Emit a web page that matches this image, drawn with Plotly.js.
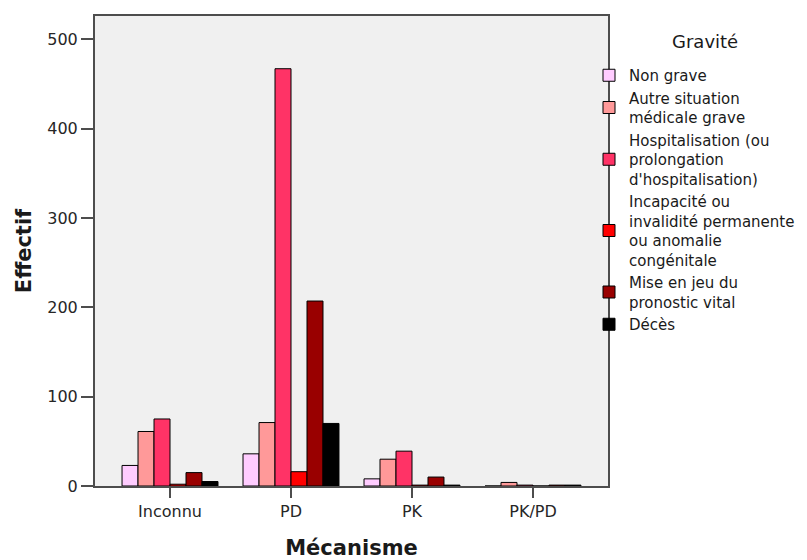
<!DOCTYPE html>
<html>
<head>
<meta charset="utf-8">
<script src="https://cdn.plot.ly/plotly-3.0.1.min.js"></script>
<style>html,body{margin:0;padding:0;background:#fff;}#chart{width:807px;height:560px;}</style>
</head>
<body>
<div id="chart"></div>
<script>
var categories = ['Inconnu', 'PD', 'PK', 'PK/PD'];
var seriesNames = [
  'Non grave',
  'Autre situation<br>médicale grave',
  'Hospitalisation (ou<br>prolongation<br>d\'hospitalisation)',
  'Incapacité ou<br>invalidité permanente<br>ou anomalie<br>congénitale',
  'Mise en jeu du<br>pronostic vital',
  'Décès'
];
var nonGrave = [23, 36, 8, 0];
var autreSituation = [61, 71, 30, 4];
var hospitalisation = [75, 467, 39, 1];
var incapacite = [2, 16, 1, 0];
var miseEnJeu = [15, 207, 10, 1];
var deces = [5, 70, 1, 1];
var yTicks = [0, 100, 200, 300, 400, 500];
var legendTitle = 'Gravité';

var seriesValues = [nonGrave, autreSituation, hospitalisation, incapacite, miseEnJeu, deces];
var colors = ['#ffccff', '#ff9999', '#ff3366', '#ff0000', '#990000', '#000000'];

var FONT = 'DejaVu Sans, Verdana, sans-serif';

var traces = seriesValues.map(function (vals, i) {
  return {
    type: 'bar',
    name: seriesNames[i],
    x: categories,
    y: vals,
    marker: { color: colors[i], line: { color: '#000000', width: 1 } },
    hoverinfo: 'x+y+name'
  };
});

var plotL = 95, plotR = 608, plotT = 16, plotB = 486;
var pw = plotR - plotL, ph = plotB - plotT;

var layout = {
  width: 807,
  height: 560,
  margin: { l: plotL, r: 807 - plotR, t: plotT, b: 560 - plotB, pad: 0, autoexpand: false },
  paper_bgcolor: '#ffffff',
  plot_bgcolor: '#f0f0f0',
  barmode: 'group',
  bargap: 0.207,
  bargroupgap: 0,
  font: { family: FONT, size: 16, color: '#262626' },
  xaxis: {
    type: 'category',
    range: [-0.62, 3.62],
    showline: true,
    linecolor: '#4d4d4d',
    linewidth: 2,
    mirror: true,
    ticks: 'outside',
    ticklen: 10,
    tickwidth: 2,
    tickcolor: '#4d4d4d',
    showgrid: false,
    zeroline: false,
    tickfont: { family: FONT, size: 16, color: '#262626' },
    title: { text: 'Mécanisme', font: { family: FONT, size: 21, color: '#1a1a1a', weight: 'bold' }, standoff: 24 }
  },
  yaxis: {
    range: [0, 526],
    tickvals: yTicks,
    ticktext: yTicks.map(String),
    showline: true,
    linecolor: '#4d4d4d',
    linewidth: 2,
    mirror: true,
    ticks: 'outside',
    ticklen: 12,
    tickwidth: 2,
    tickcolor: '#4d4d4d',
    showgrid: false,
    zeroline: false,
    tickfont: { family: FONT, size: 16, color: '#262626' },
    title: { text: 'Effectif', font: { family: FONT, size: 21, color: '#1a1a1a', weight: 'bold' }, standoff: 10 }
  },
  showlegend: true,
  legend: {
    x: 1 + (589 - plotR) / pw,
    xanchor: 'left',
    y: 1 - (59 - plotT) / ph,
    yanchor: 'top',
    bgcolor: 'rgba(0,0,0,0)',
    borderwidth: 0,
    font: { family: FONT, size: 15, color: '#1a1a1a' },
    traceorder: 'normal',
    valign: 'middle'
  },
  annotations: [{
    text: legendTitle,
    xref: 'paper', yref: 'paper',
    x: 1 + (705 - plotR) / pw,
    y: 1 - (42 - plotT) / ph,
    xanchor: 'center', yanchor: 'middle',
    showarrow: false,
    font: { family: FONT, size: 18, color: '#1a1a1a' }
  }]
};

Plotly.newPlot('chart', traces, layout, { displayModeBar: false, responsive: false });
</script>
</body>
</html>
